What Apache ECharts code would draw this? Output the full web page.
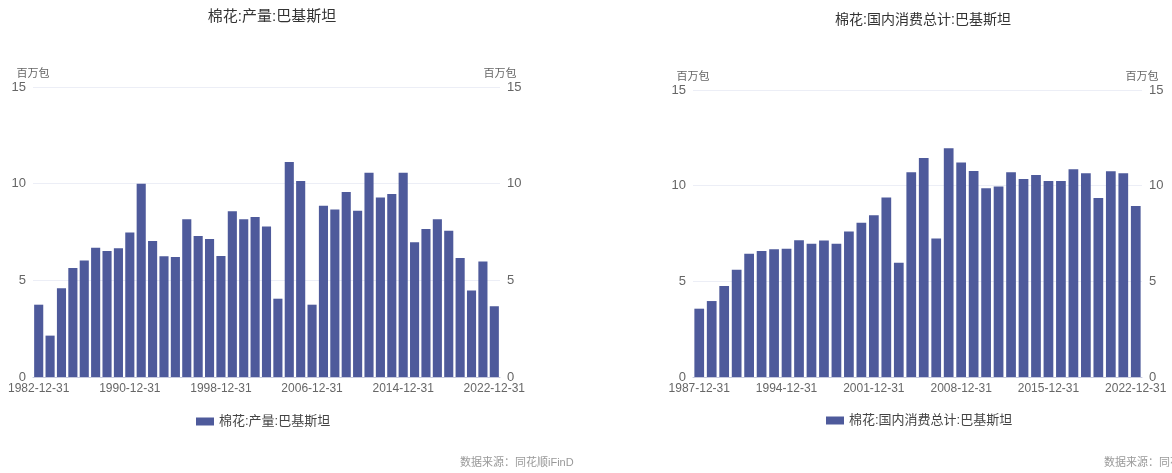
<!DOCTYPE html>
<html>
<head>
<meta charset="utf-8">
<script src="https://cdn.jsdelivr.net/npm/echarts@6/dist/echarts.min.js"></script>
<style>
html,body{margin:0;padding:0;background:#fff;}
#c{width:1172px;height:473px;}
</style>
</head>
<body>
<div id="c"></div>
<script>
// ---- data ----
const prodTitle = '棉花:产量:巴基斯坦';
const consTitle = '棉花:国内消费总计:巴基斯坦';
const unitName = '百万包';
const sourceText = '数据来源：同花顺iFinD';

const prodYears = [];
for (let y = 1982; y <= 2022; y++) prodYears.push(y + '-12-31');
const prodValues = [
  3.74, 2.14, 4.59, 5.64, 6.02, 6.69, 6.52, 6.66, 7.48, 10.0,
  7.03, 6.24, 6.21, 8.16, 7.29, 7.14, 6.26, 8.57, 8.16, 8.28,
  7.78, 4.05, 11.12, 10.14, 3.74, 8.86, 8.67, 9.57, 8.60, 10.57,
  9.28, 9.47, 10.57, 6.97, 7.66, 8.16, 7.57, 6.16, 4.47, 5.97,
  3.66
];

const consYears = [];
for (let y = 1987; y <= 2022; y++) consYears.push(y + '-12-31');
const consValues = [
  3.57, 3.97, 4.75, 5.60, 6.44, 6.58, 6.68, 6.70, 7.15, 6.96,
  7.13, 6.96, 7.60, 8.06, 8.46, 9.38, 5.97, 10.70, 11.45, 7.24,
  11.95, 11.21, 10.77, 9.87, 9.95, 10.70, 10.35, 10.56, 10.25, 10.25,
  10.86, 10.65, 9.36, 10.75, 10.65, 8.94
];

const yTicks = { min: 0, max: 15, interval: 5 };

// ---- chart ----
const FONT = "'Liberation Sans', 'Noto Sans CJK SC', sans-serif";
const BAR = '#4e5a9b';
const chart = echarts.init(document.getElementById('c'), null, { renderer: 'canvas' });

function xAxis(gridIndex, data, interval) {
  return {
    type: 'category', gridIndex, data,
    axisTick: { show: false },
    axisLine: { lineStyle: { color: '#c6c9dd', width: 1 } },
    axisLabel: { interval, color: '#666', fontSize: 12, fontFamily: FONT, margin: 6 },
  };
}
function yAxis(gridIndex, position, showSplit) {
  return {
    type: 'value', gridIndex, position,
    min: yTicks.min, max: yTicks.max, interval: yTicks.interval,
    name: unitName,
    nameTextStyle: { color: '#666', fontSize: 11, fontFamily: FONT },
    nameGap: 8,
    axisLine: { show: false },
    axisTick: { show: false },
    axisLabel: { color: '#666', fontSize: 13, fontFamily: FONT, margin: 7 },
    splitLine: { show: showSplit, lineStyle: { color: '#eceef6' } },
  };
}

chart.setOption({
  animation: false,
  textStyle: { fontFamily: FONT },
  title: [
    { text: prodTitle, left: 267, top: 4, textAlign: 'center',
      textStyle: { fontSize: 15, fontWeight: 'normal', color: '#333', fontFamily: FONT } },
    { text: consTitle, left: 918, top: 8, textAlign: 'center',
      textStyle: { fontSize: 14, fontWeight: 'normal', color: '#333', fontFamily: FONT } },
  ],
  legend: [
    { data: [prodTitle], left: 191, top: 410, itemWidth: 18, itemHeight: 8, itemGap: 5, icon: 'rect',
      textStyle: { fontSize: 13, color: '#444', fontFamily: FONT } },
    { data: [consTitle], left: 821, top: 409, itemWidth: 18, itemHeight: 8, itemGap: 5, icon: 'rect',
      textStyle: { fontSize: 13, color: '#444', fontFamily: FONT } },
  ],
  grid: [
    { left: 33, right: 1172 - 500, top: 87, bottom: 473 - 377 },
    { left: 693, right: 1172 - 1142, top: 90, bottom: 473 - 377 },
  ],
  xAxis: [ xAxis(0, prodYears, 7), xAxis(1, consYears, 6) ],
  yAxis: [ yAxis(0, 'left', true), yAxis(0, 'right', false), yAxis(1, 'left', true), yAxis(1, 'right', false) ],
  series: [
    { name: prodTitle, type: 'bar', xAxisIndex: 0, yAxisIndex: 0, data: prodValues,
      barCategoryGap: '20%', itemStyle: { color: BAR } },
    { name: consTitle, type: 'bar', xAxisIndex: 1, yAxisIndex: 2, data: consValues,
      barCategoryGap: '22%', itemStyle: { color: BAR } },
  ],
  graphic: [
    { type: 'text', left: 460, top: 457, style: { text: sourceText, fill: '#999', fontSize: 11, fontFamily: FONT } },
    { type: 'text', left: 1104, top: 457, style: { text: sourceText, fill: '#999', fontSize: 11, fontFamily: FONT } },
  ],
});
</script>
</body>
</html>
